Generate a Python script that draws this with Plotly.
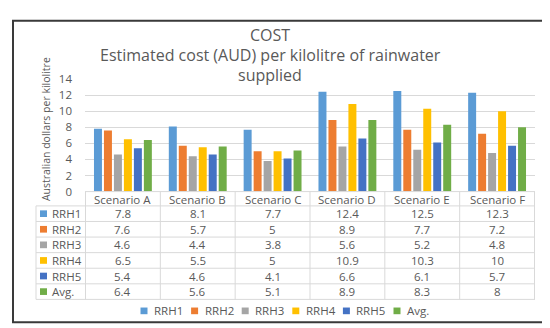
import plotly.graph_objects as go

# ---------------- data ----------------
scenarios = ["Scenario A", "Scenario B", "Scenario C", "Scenario D", "Scenario E", "Scenario F"]
series_names = ["RRH1", "RRH2", "RRH3", "RRH4", "RRH5", "Avg."]
rrh1 = [7.8, 8.1, 7.7, 12.4, 12.5, 12.3]
rrh2 = [7.6, 5.7, 5, 8.9, 7.7, 7.2]
rrh3 = [4.6, 4.4, 3.8, 5.6, 5.2, 4.8]
rrh4 = [6.5, 5.5, 5, 10.9, 10.3, 10]
rrh5 = [5.4, 4.6, 4.1, 6.6, 6.1, 5.7]
avg = [6.4, 5.6, 5.1, 8.9, 8.3, 8]
y_ticks = [0, 2, 4, 6, 8, 10, 12, 14]
title_lines = ["COST", "Estimated cost (AUD) per kilolitre of rainwater", "supplied"]
y_title = "Australian dollars per kilolitre"

series_values = [rrh1, rrh2, rrh3, rrh4, rrh5, avg]
colors = ["#5B9BD5", "#ED7D31", "#A5A5A5", "#FFC000", "#4472C4", "#70AD47"]

# ---------------- geometry helpers (pixel -> paper) ----------------
W, H = 550, 328
def px(x):
    return x / W
def py(y):
    return 1 - y / H

FONT = "Open Sans"
TXT = "#595959"
GRID = "#D9D9D9"

plot_l, plot_r = 77, 527
plot_top, plot_bot = 66, 184
header_bot = 199
row_h = 16.33
table_left = 28

fig = go.Figure()
for name, vals, col in zip(series_names, series_values, colors):
    fig.add_trace(go.Bar(x=scenarios, y=vals, name=name, marker_color=col,
                         marker_line_width=0, showlegend=False))

shapes = []
annotations = []

# title
for i, (t, yy) in enumerate(zip(title_lines, [19.5, 40.5, 61.5])):
    annotations.append(dict(text=t, x=px(262), y=py(yy), xref="paper", yref="paper",
                            xanchor="center", yanchor="middle", showarrow=False,
                            font=dict(family=FONT, size=16, color=TXT)))

# y-axis title
annotations.append(dict(text=y_title, x=px(38), y=py(118.5), xref="paper", yref="paper",
                        textangle=-90, xanchor="center", yanchor="middle", showarrow=False,
                        font=dict(family=FONT, size=10.5, color=TXT)))

n = len(scenarios)
table_bot = header_bot + row_h * len(series_names)

# table lines
shapes.append(dict(type="line", xref="paper", yref="paper", x0=px(plot_l), x1=px(plot_r),
                   y0=py(plot_bot), y1=py(plot_bot), line=dict(color=GRID, width=1)))
for k in range(len(series_names) + 1):
    yy = header_bot + row_h * k
    shapes.append(dict(type="line", xref="paper", yref="paper", x0=px(table_left), x1=px(plot_r),
                       y0=py(yy), y1=py(yy), line=dict(color=GRID, width=1)))
shapes.append(dict(type="line", xref="paper", yref="paper", x0=px(table_left), x1=px(table_left),
                   y0=py(header_bot), y1=py(table_bot), line=dict(color=GRID, width=1)))
for i in range(n + 1):
    shapes.append(dict(type="line", xref="x", yref="paper", x0=i - 0.5, x1=i - 0.5,
                       y0=py(plot_bot), y1=py(table_bot), line=dict(color=GRID, width=1)))

# header row
for s in scenarios:
    annotations.append(dict(text=s, x=s, xref="x", y=py((plot_bot + header_bot) / 2 + 0.5),
                            yref="paper", xanchor="center", yanchor="middle", showarrow=False,
                            font=dict(family=FONT, size=11.5, color=TXT)))

# data rows
for k, (name, vals, col) in enumerate(zip(series_names, series_values, colors)):
    yc = header_bot + row_h * (k + 0.5)
    shapes.append(dict(type="rect", xref="paper", yref="paper", x0=px(32), x1=px(39),
                       y0=py(yc - 3.5), y1=py(yc + 3.5), fillcolor=col, line=dict(width=0)))
    annotations.append(dict(text=name, x=px(42), y=py(yc), xref="paper", yref="paper",
                            xanchor="left", yanchor="middle", showarrow=False,
                            font=dict(family=FONT, size=11.5, color=TXT)))
    for s, v in zip(scenarios, vals):
        annotations.append(dict(text=f"{v:g}", x=s, xref="x", y=py(yc), yref="paper",
                                xanchor="center", yanchor="middle", showarrow=False,
                                font=dict(family=FONT, size=11.5, color=TXT)))

# legend (bottom)
leg_y = 309
for k, (name, col) in enumerate(zip(series_names, colors)):
    cx = 136 + 50.6 * k
    shapes.append(dict(type="rect", xref="paper", yref="paper", x0=px(cx - 3.5), x1=px(cx + 3.5),
                       y0=py(leg_y - 3.5), y1=py(leg_y + 3.5), fillcolor=col, line=dict(width=0)))
    annotations.append(dict(text=name, x=px(cx + 8), y=py(leg_y), xref="paper", yref="paper",
                            xanchor="left", yanchor="middle", showarrow=False,
                            font=dict(family=FONT, size=11.5, color=TXT)))

# outer frame
shapes.append(dict(type="rect", xref="paper", yref="paper", x0=px(5), x1=px(545),
                   y0=py(5), y1=py(321), line=dict(color="#3A3A3A", width=2)))

fig.update_layout(
    width=W, height=H,
    margin=dict(l=0, r=0, t=0, b=0),
    paper_bgcolor="white", plot_bgcolor="white",
    barmode="group", bargap=0.2, bargroupgap=0.2,
    xaxis=dict(domain=[px(plot_l), px(plot_r)], showticklabels=False, showgrid=False,
               zeroline=False, showline=False, ticks=""),
    yaxis=dict(domain=[py(plot_bot), py(plot_top)], range=[0, 14], tickvals=y_ticks,
               showgrid=True, gridcolor=GRID, gridwidth=1, zeroline=False, showline=False,
               ticks="", ticklabelstandoff=12,
               tickfont=dict(family=FONT, size=11.5, color=TXT)),
    shapes=shapes, annotations=annotations,
    showlegend=False,
)

fig.write_html("out.html")
